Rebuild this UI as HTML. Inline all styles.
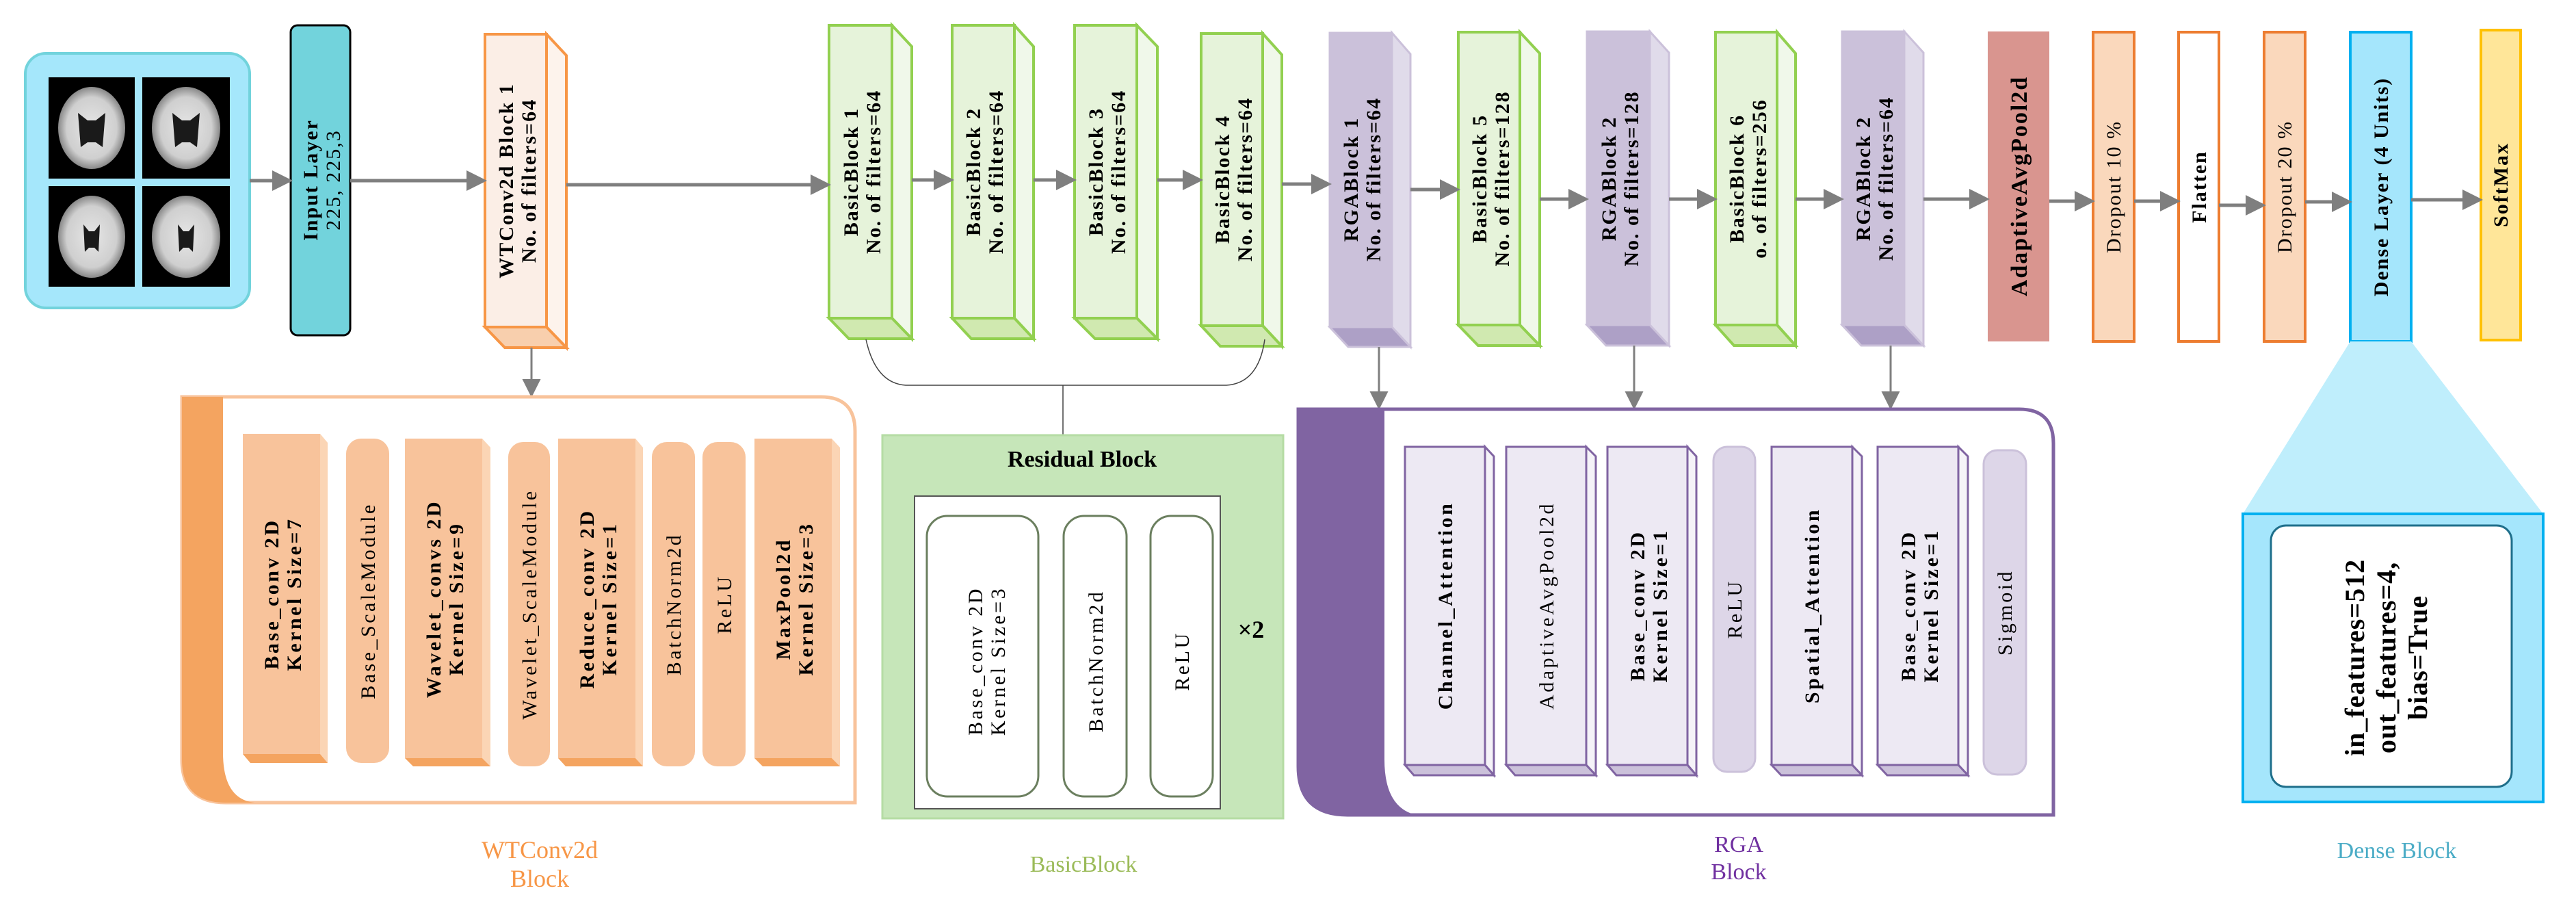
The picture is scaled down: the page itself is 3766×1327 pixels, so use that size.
<!DOCTYPE html>
<html><head><meta charset="utf-8"><style>
html,body{margin:0;padding:0;background:#fff}
svg{display:block}
text{font-family:"Liberation Serif",serif;fill:#000}
.b{font-weight:bold}
.t text{letter-spacing:2px}
.p text{letter-spacing:3.5px}
</style></head><body>
<svg width="3766" height="1327" viewBox="0 0 3766 1327" xmlns="http://www.w3.org/2000/svg">
<defs>
<marker id="ah" markerWidth="6" markerHeight="6" refX="5" refY="3" orient="auto" markerUnits="strokeWidth">
<path d="M0,0 L6,3 L0,6 Z" fill="#7f7f7f"/></marker>
<marker id="ah2" markerWidth="9" markerHeight="9" refX="8" refY="4.5" orient="auto" markerUnits="strokeWidth">
<path d="M0,0 L9,4.5 L0,9 Z" fill="#7f7f7f"/></marker>
<radialGradient id="brain" cx="50%" cy="50%" r="50%">
<stop offset="0" stop-color="#e6e6e6"/><stop offset="0.75" stop-color="#cfcfcf"/><stop offset="1" stop-color="#888"/></radialGradient>
</defs>

<!-- brain panel -->
<rect x="37" y="78" width="328" height="372" rx="30" fill="#a5e7fb" stroke="#72d3dc" stroke-width="4"/>
<g>
<rect x="71" y="113" width="126" height="148" fill="#000"/>
<rect x="208" y="113" width="128" height="148" fill="#000"/>
<rect x="71" y="272" width="126" height="147" fill="#000"/>
<rect x="208" y="272" width="128" height="147" fill="#000"/>
<ellipse cx="134" cy="187" rx="49" ry="60" fill="url(#brain)"/>
<ellipse cx="272" cy="187" rx="50" ry="60" fill="url(#brain)"/>
<ellipse cx="134" cy="346" rx="49" ry="60" fill="url(#brain)"/>
<ellipse cx="272" cy="346" rx="50" ry="60" fill="url(#brain)"/>
<path d="M114,165 L128,176 L140,176 L154,165 L150,215 L140,208 L128,208 L118,215 Z" fill="#1a1a1a"/>
<path d="M252,165 L266,176 L278,176 L292,165 L288,215 L278,208 L266,208 L256,215 Z" fill="#1a1a1a"/>
<path d="M122,328 L130,338 L138,338 L146,328 L144,368 L138,362 L130,362 L124,368 Z" fill="#1a1a1a"/>
<path d="M260,328 L268,338 L276,338 L284,328 L282,368 L276,362 L268,362 L262,368 Z" fill="#1a1a1a"/>
</g>

<!-- input layer -->
<rect x="425" y="37" width="87" height="453" rx="10" fill="#72d3dc" stroke="#000" stroke-width="3"/>
<g class="t"><text transform="translate(468,263) rotate(-90)" text-anchor="middle" font-size="30"><tspan class="b" x="0" dy="-4">Input Layer</tspan><tspan x="0" dy="33">225, 225,3</tspan></text></g>

<!-- WT box -->
<g stroke="#f79646" stroke-width="4">
<polygon points="799,50 828,81 828,508 799,478" fill="#fdf3ec"/>
<polygon points="709,478 799,478 828,508 738,508" fill="#f8cfad"/>
<rect x="709" y="50" width="90" height="428" fill="#fbeee6"/>
</g>
<g class="t"><text transform="translate(754,264) rotate(-90)" text-anchor="middle" font-size="30" class="b"><tspan x="0" dy="-4">WTConv2d Block 1</tspan><tspan x="0" dy="33">No. of filters=64</tspan></text></g>

<!-- green boxes -->
<g stroke="#92d050" stroke-width="4">
<polygon points="1304,37 1333,68 1333,495 1304,465" fill="#f0f8ea"/><polygon points="1212,465 1304,465 1333,495 1241,495" fill="#d0e9b0"/><rect x="1212" y="37" width="92" height="428" fill="#e6f3da"/>
<polygon points="1483,37 1511,68 1511,495 1483,465" fill="#f0f8ea"/><polygon points="1392,465 1483,465 1511,495 1420,495" fill="#d0e9b0"/><rect x="1392" y="37" width="91" height="428" fill="#e6f3da"/>
<polygon points="1662,37 1692,68 1692,495 1662,465" fill="#f0f8ea"/><polygon points="1571,465 1662,465 1692,495 1601,495" fill="#d0e9b0"/><rect x="1571" y="37" width="91" height="428" fill="#e6f3da"/>
<polygon points="1846,49 1874,80 1874,506 1846,476" fill="#f0f8ea"/><polygon points="1756,476 1846,476 1874,506 1784,506" fill="#d0e9b0"/><rect x="1756" y="49" width="90" height="427" fill="#e6f3da"/>
<polygon points="2222,47 2251,78 2251,505 2222,475" fill="#f0f8ea"/><polygon points="2132,475 2222,475 2251,505 2161,505" fill="#d0e9b0"/><rect x="2132" y="47" width="90" height="428" fill="#e6f3da"/>
<polygon points="2598,47 2625,78 2625,505 2598,475" fill="#f0f8ea"/><polygon points="2508,475 2598,475 2625,505 2535,505" fill="#d0e9b0"/><rect x="2508" y="47" width="90" height="428" fill="#e6f3da"/>
</g>
<!-- purple boxes -->
<g stroke="#cbc1da" stroke-width="3">
<polygon points="2035,48 2062,79 2062,507 2035,478" fill="#e0dbea"/><polygon points="1944,478 2035,478 2062,507 1971,507" fill="#ada0c6"/><rect x="1944" y="48" width="91" height="430" fill="#cbc1da"/>
<polygon points="2412,46 2440,77 2440,505 2412,475" fill="#e0dbea"/><polygon points="2320,475 2412,475 2440,505 2348,505" fill="#ada0c6"/><rect x="2320" y="46" width="92" height="429" fill="#cbc1da"/>
<polygon points="2784,46 2812,77 2812,505 2784,475" fill="#e0dbea"/><polygon points="2693,475 2784,475 2812,505 2721,505" fill="#ada0c6"/><rect x="2693" y="46" width="91" height="429" fill="#cbc1da"/>
</g>
<g font-size="30" class="b t" text-anchor="middle">
<text transform="translate(1258,251) rotate(-90)"><tspan x="0" dy="-4">BasicBlock 1</tspan><tspan x="0" dy="33">No. of filters=64</tspan></text>
<text transform="translate(1437,251) rotate(-90)"><tspan x="0" dy="-4">BasicBlock 2</tspan><tspan x="0" dy="33">No. of filters=64</tspan></text>
<text transform="translate(1616,251) rotate(-90)"><tspan x="0" dy="-4">BasicBlock 3</tspan><tspan x="0" dy="33">No. of filters=64</tspan></text>
<text transform="translate(1801,262) rotate(-90)"><tspan x="0" dy="-4">BasicBlock 4</tspan><tspan x="0" dy="33">No. of filters=64</tspan></text>
<text transform="translate(1989,262) rotate(-90)"><tspan x="0" dy="-4">RGABlock 1</tspan><tspan x="0" dy="33">No. of filters=64</tspan></text>
<text transform="translate(2177,261) rotate(-90)"><tspan x="0" dy="-4">BasicBlock 5</tspan><tspan x="0" dy="33">No. of filters=128</tspan></text>
<text transform="translate(2366,261) rotate(-90)"><tspan x="0" dy="-4">RGABlock 2</tspan><tspan x="0" dy="33">No. of filters=128</tspan></text>
<text transform="translate(2553,261) rotate(-90)"><tspan x="0" dy="-4">BasicBlock 6</tspan><tspan x="0" dy="33">o. of filters=256</tspan></text>
<text transform="translate(2738,261) rotate(-90)"><tspan x="0" dy="-4">RGABlock 2</tspan><tspan x="0" dy="33">No. of filters=64</tspan></text>
</g>

<!-- right layers -->
<rect x="2906" y="46" width="90" height="453" fill="#d9958f"/>
<rect x="3060" y="47" width="60" height="452" fill="#fad8bc" stroke="#ed7d31" stroke-width="4"/>
<rect x="3185" y="47" width="59" height="452" fill="#fff" stroke="#ed7d31" stroke-width="4"/>
<rect x="3310" y="47" width="60" height="452" fill="#fad8bc" stroke="#ed7d31" stroke-width="4"/>
<rect x="3436" y="47" width="89" height="452" fill="#a5e6fc" stroke="#00b0f0" stroke-width="4"/>
<rect x="3627" y="44" width="58" height="453" fill="#ffe699" stroke="#ffc000" stroke-width="4"/>
<g class="t" text-anchor="middle">
<text transform="translate(2963,272) rotate(-90)" font-size="34" class="b">AdaptiveAvgPool2d</text>
<text transform="translate(3100,273) rotate(-90)" font-size="30">Dropout 10 %</text>
<text transform="translate(3225,273) rotate(-90)" font-size="30" class="b">Flatten</text>
<text transform="translate(3350,273) rotate(-90)" font-size="30">Dropout 20 %</text>
<text transform="translate(3491,273) rotate(-90)" font-size="30" class="b">Dense Layer (4 Units)</text>
<text transform="translate(3666,270) rotate(-90)" font-size="30" class="b">SoftMax</text>
</g>

<!-- horizontal arrows -->
<g stroke="#7f7f7f" stroke-width="5" marker-end="url(#ah)" fill="none">
<line x1="365" y1="264" x2="423" y2="264"/>
<line x1="512" y1="264" x2="707" y2="264"/>
<line x1="828" y1="270" x2="1210" y2="270"/>
<line x1="1333" y1="263" x2="1390" y2="263"/>
<line x1="1511" y1="263" x2="1569" y2="263"/>
<line x1="1692" y1="263" x2="1754" y2="263"/>
<line x1="1874" y1="269" x2="1942" y2="269"/>
<line x1="2062" y1="277" x2="2130" y2="277"/>
<line x1="2251" y1="291" x2="2318" y2="291"/>
<line x1="2440" y1="291" x2="2506" y2="291"/>
<line x1="2625" y1="291" x2="2691" y2="291"/>
<line x1="2812" y1="291" x2="2904" y2="291"/>
<line x1="2996" y1="294" x2="3058" y2="294"/>
<line x1="3120" y1="294" x2="3183" y2="294"/>
<line x1="3244" y1="300" x2="3308" y2="300"/>
<line x1="3370" y1="295" x2="3434" y2="295"/>
<line x1="3525" y1="292" x2="3625" y2="292"/>
</g>
<g stroke="#7f7f7f" stroke-width="3" marker-end="url(#ah2)" fill="none">
<line x1="777" y1="508" x2="777" y2="578"/>
<line x1="2016" y1="507" x2="2016" y2="596"/>
<line x1="2389" y1="505" x2="2389" y2="596"/>
<line x1="2764" y1="505" x2="2764" y2="596"/>
</g>

<!-- residual connector -->
<path d="M1266,496 Q1280,560 1324,563 L1793,563 Q1840,560 1849,496" fill="none" stroke="#444" stroke-width="1.5"/>
<line x1="1554" y1="563" x2="1554" y2="636" stroke="#444" stroke-width="1.5"/>

<!-- WTConv2d panel -->
<path d="M266,580 H1200 Q1250,580 1250,630 V1173 H330 Q266,1173 266,1110 Z" fill="#fff" stroke="#f8c39b" stroke-width="5"/>
<path d="M266,580 H326 V1100 Q326,1168 372,1173 H330 Q266,1173 266,1110 Z" fill="#f4a460"/>
<g>
<polygon points="468,634 479,647 479,1115 468,1102" fill="#fbd5b5"/><polygon points="355,1102 468,1102 479,1115 366,1115" fill="#f4a460"/><rect x="355" y="634" width="113" height="468" fill="#f8c39b"/>
<rect x="506" y="641" width="63" height="474" rx="22" fill="#f8c39b"/>
<polygon points="705,641 717,654 717,1120 705,1108" fill="#fbd5b5"/><polygon points="592,1108 705,1108 717,1120 604,1120" fill="#f4a460"/><rect x="592" y="641" width="113" height="467" fill="#f8c39b"/>
<rect x="743" y="646" width="61" height="474" rx="22" fill="#f8c39b"/>
<polygon points="929,641 940,654 940,1120 929,1108" fill="#fbd5b5"/><polygon points="816,1108 929,1108 940,1120 827,1120" fill="#f4a460"/><rect x="816" y="641" width="113" height="467" fill="#f8c39b"/>
<rect x="953" y="646" width="63" height="474" rx="22" fill="#f8c39b"/>
<rect x="1027" y="646" width="63" height="474" rx="22" fill="#f8c39b"/>
<polygon points="1216,641 1228,654 1228,1120 1216,1108" fill="#fbd5b5"/><polygon points="1103,1108 1216,1108 1228,1120 1115,1120" fill="#f4a460"/><rect x="1103" y="641" width="113" height="467" fill="#f8c39b"/>
</g>
<g font-size="30" text-anchor="middle" class="p">
<text transform="translate(411,868) rotate(-90)" class="b"><tspan x="0" dy="-4">Base_conv 2D</tspan><tspan x="0" dy="33">Kernel Size=7</tspan></text>
<text transform="translate(548,878) rotate(-90)">Base_ScaleModule</text>
<text transform="translate(648,875) rotate(-90)" class="b"><tspan x="0" dy="-4">Wavelet_convs 2D</tspan><tspan x="0" dy="33">Kernel Size=9</tspan></text>
<text transform="translate(784,883) rotate(-90)">Wavelet_ScaleModule</text>
<text transform="translate(872,875) rotate(-90)" class="b"><tspan x="0" dy="-4">Reduce_conv 2D</tspan><tspan x="0" dy="33">Kernel Size=1</tspan></text>
<text transform="translate(995,883) rotate(-90)">BatchNorm2d</text>
<text transform="translate(1069,883) rotate(-90)">ReLU</text>
<text transform="translate(1159,875) rotate(-90)" class="b"><tspan x="0" dy="-4">MaxPool2d</tspan><tspan x="0" dy="33">Kernel Size=3</tspan></text>
</g>
<text x="789" y="1254" text-anchor="middle" font-size="36" style="fill:#f79646">WTConv2d</text>
<text x="789" y="1296" text-anchor="middle" font-size="36" style="fill:#f79646">Block</text>

<!-- Residual panel -->
<rect x="1290" y="636" width="586" height="560" fill="#c6e6b9" stroke="#b5dca4" stroke-width="3"/>
<text x="1582" y="682" text-anchor="middle" font-size="34" class="b">Residual Block</text>
<rect x="1337" y="725" width="447" height="457" fill="#fff" stroke="#555" stroke-width="2"/>
<rect x="1355" y="754" width="163" height="410" rx="30" fill="#fff" stroke="#6b7f5f" stroke-width="3"/>
<rect x="1555" y="754" width="92" height="410" rx="30" fill="#fff" stroke="#6b7f5f" stroke-width="3"/>
<rect x="1682" y="754" width="91" height="410" rx="30" fill="#fff" stroke="#6b7f5f" stroke-width="3"/>
<g font-size="30" text-anchor="middle" class="p">
<text transform="translate(1440,966) rotate(-90)"><tspan x="0" dy="-4">Base_conv 2D</tspan><tspan x="0" dy="33">Kernel Size=3</tspan></text>
<text transform="translate(1612,966) rotate(-90)">BatchNorm2d</text>
<text transform="translate(1738,966) rotate(-90)">ReLU</text>
</g>
<text x="1829" y="932" text-anchor="middle" font-size="36" class="b">×2</text>
<text x="1584" y="1274" text-anchor="middle" font-size="34" style="fill:#9bbb59">BasicBlock</text>

<!-- RGA panel -->
<path d="M1898,598 H2952 Q3002,598 3002,648 V1191 H1970 Q1898,1191 1898,1120 Z" fill="#fff" stroke="#8064a2" stroke-width="5"/>
<path d="M1898,598 H2024 V1110 Q2024,1180 2070,1191 H1970 Q1898,1191 1898,1120 Z" fill="#8064a2"/>
<g stroke="#8064a2" stroke-width="3">
<polygon points="2171,653 2184,667 2184,1133 2171,1118" fill="#f5f3f8"/><polygon points="2054,1118 2171,1118 2184,1133 2067,1133" fill="#cbc1da"/><rect x="2054" y="653" width="117" height="465" fill="#ede9f3"/>
<polygon points="2319,653 2333,667 2333,1133 2319,1118" fill="#f5f3f8"/><polygon points="2202,1118 2319,1118 2333,1133 2215,1133" fill="#cbc1da"/><rect x="2202" y="653" width="117" height="465" fill="#ede9f3"/>
<polygon points="2467,653 2480,667 2480,1133 2467,1118" fill="#f5f3f8"/><polygon points="2350,1118 2467,1118 2480,1133 2363,1133" fill="#cbc1da"/><rect x="2350" y="653" width="117" height="465" fill="#ede9f3"/>
<polygon points="2708,653 2722,667 2722,1133 2708,1118" fill="#f5f3f8"/><polygon points="2590,1118 2708,1118 2722,1133 2604,1133" fill="#cbc1da"/><rect x="2590" y="653" width="118" height="465" fill="#ede9f3"/>
<polygon points="2863,653 2877,667 2877,1133 2863,1118" fill="#f5f3f8"/><polygon points="2745,1118 2863,1118 2877,1133 2759,1133" fill="#cbc1da"/><rect x="2745" y="653" width="118" height="465" fill="#ede9f3"/>
</g>
<rect x="2505" y="653" width="61" height="475" rx="20" fill="#ddd6e8" stroke="#cbc1da" stroke-width="3"/>
<rect x="2900" y="658" width="62" height="474" rx="20" fill="#ddd6e8" stroke="#cbc1da" stroke-width="3"/>
<g font-size="30" text-anchor="middle" class="p">
<text transform="translate(2113,885) rotate(-90)" class="b"><tspan x="0" dy="10">Channel_Attention</tspan></text>
<text transform="translate(2261,885) rotate(-90)"><tspan x="0" dy="10">AdaptiveAvgPool2d</tspan></text>
<text transform="translate(2408,885) rotate(-90)" class="b"><tspan x="0" dy="-4">Base_conv 2D</tspan><tspan x="0" dy="33">Kernel Size=1</tspan></text>
<text transform="translate(2536,890) rotate(-90)"><tspan x="0" dy="10">ReLU</tspan></text>
<text transform="translate(2649,885) rotate(-90)" class="b"><tspan x="0" dy="10">Spatial_Attention</tspan></text>
<text transform="translate(2804,885) rotate(-90)" class="b"><tspan x="0" dy="-4">Base_conv 2D</tspan><tspan x="0" dy="33">Kernel Size=1</tspan></text>
<text transform="translate(2931,895) rotate(-90)"><tspan x="0" dy="10">Sigmoid</tspan></text>
</g>
<text x="2542" y="1245" text-anchor="middle" font-size="34" style="fill:#7030a0">RGA</text>
<text x="2542" y="1285" text-anchor="middle" font-size="34" style="fill:#7030a0">Block</text>

<!-- Dense block -->
<polygon points="3436,499 3525,499 3718,751 3279,751" fill="#bfeefc"/>
<rect x="3279" y="751" width="439" height="421" fill="#a5e6fc" stroke="#00b0f0" stroke-width="4"/>
<rect x="3320" y="768" width="352" height="382" rx="22" fill="#fff" stroke="#1f6f8b" stroke-width="3"/>
<text transform="translate(3492,961) rotate(-90)" text-anchor="middle" font-size="40" class="b" style="letter-spacing:1px"><tspan x="0" dy="-36">in_features=512</tspan><tspan x="0" dy="46">out_features=4,</tspan><tspan x="0" dy="46">bias=True</tspan></text>
<text x="3504" y="1254" text-anchor="middle" font-size="34" style="fill:#4bacc6">Dense Block</text>
</svg>
</body></html>
